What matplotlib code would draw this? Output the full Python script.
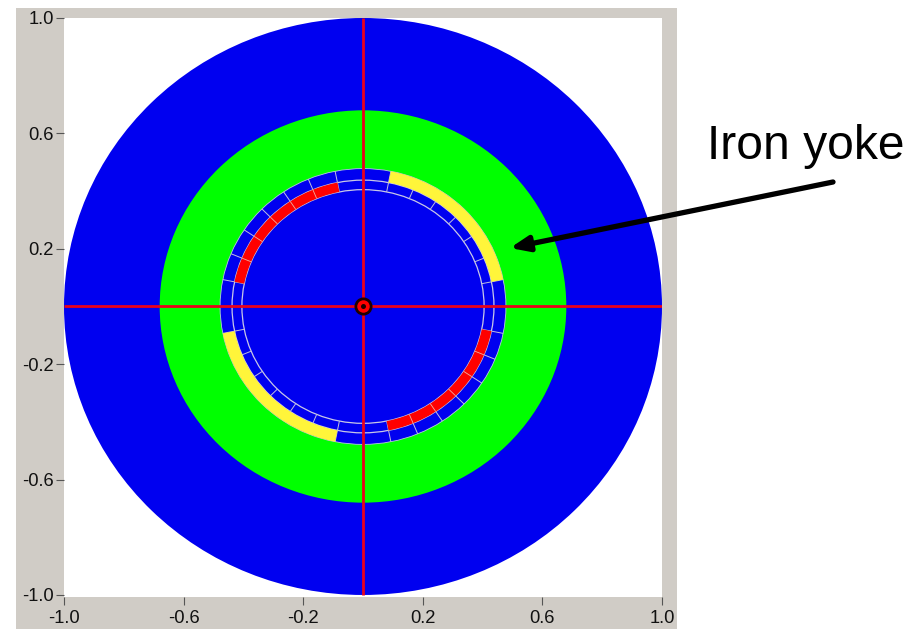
import matplotlib
matplotlib.use("Agg")
import matplotlib.pyplot as plt
from matplotlib.patches import Wedge, Circle, Rectangle

plt.rcParams['font.family'] = ['Liberation Sans', 'DejaVu Sans']

W, H = 916, 629
BLUE, GREEN, YELLOW, RED = '#0000F0', '#00FF00', '#FFF53A', '#FF0000'

# Radii
r_outer = 1.0
r_yoke = 0.68
r_coil_out = 0.478
r_coil_mid = 0.438
r_coil_in = 0.405

# Coloured blocks
block_r_in = [r_coil_mid, r_coil_mid, r_coil_in, r_coil_in]
block_r_out = [r_coil_out, r_coil_out, r_coil_mid, r_coil_mid]
block_start = [11.25, 191.25, 101.25, 281.25]
block_end = [78.75, 258.75, 168.75, 348.75]
block_color = [YELLOW, YELLOW, RED, RED]

# Angles of the dividers between coil blocks
divider_angles = [11.25, 22.5, 33.75, 45, 56.25, 67.5, 78.75,
                  101.25, 112.5, 123.75, 135, 146.25, 157.5, 168.75,
                  191.25, 202.5, 213.75, 225, 236.25, 247.5, 258.75,
                  281.25, 292.5, 303.75, 315, 326.25, 337.5, 348.75]

xticks = [-1.0, -0.6, -0.2, 0.2, 0.6, 1.0]
yticks = [-1.0, -0.6, -0.2, 0.2, 0.6, 1.0]
annotation = "Iron yoke"

fig = plt.figure(figsize=(W / 100, H / 100), dpi=100, facecolor='white')
panel = Rectangle((16 / W, 0), (677 - 16) / W, (H - 8) / H, transform=fig.transFigure,
                  facecolor='#D0CCC6', edgecolor='none', zorder=-5)
fig.patches.append(panel)

ax = fig.add_axes([64 / W, 1 - 597 / H, (662 - 64) / W, (597 - 18) / H], facecolor='white')
ax.set_xlim(-1, 1)
ax.set_ylim(-1.007, 1.0)

ax.add_patch(Circle((0, 0), r_outer, facecolor=BLUE, edgecolor='none', zorder=1))
ax.add_patch(Circle((0, 0), r_yoke, facecolor=GREEN, edgecolor='none', zorder=2))
ax.add_patch(Circle((0, 0), r_coil_out, facecolor=BLUE, edgecolor='#B8C8E0', lw=0.6, zorder=3))

# Cell outlines sit under the coloured blocks, as they barely show through them
for r in (r_coil_mid, r_coil_in):
    ax.add_patch(Circle((0, 0), r, facecolor='none', edgecolor='#C8C8E6', lw=0.9, zorder=3.5))
for a in divider_angles:
    ax.add_patch(Wedge((0, 0), r_coil_out, a, a, width=r_coil_out - r_coil_in, facecolor='none',
                       edgecolor='#C0C0DC', lw=0.7, zorder=3.5))

for ri, ro, a0, a1, c in zip(block_r_in, block_r_out, block_start, block_end, block_color):
    ax.add_patch(Wedge((0, 0), ro, a0, a1, width=ro - ri, facecolor=c, edgecolor='none', zorder=4))
    if c == RED:
        for a in divider_angles:
            if a0 < a < a1:
                ax.add_patch(Wedge((0, 0), ro, a, a, width=ro - ri, facecolor='none',
                                   edgecolor='#F0B0A0', lw=0.6, zorder=4.5))

ax.plot([-1, 1], [0, 0], color='#E8001C', lw=2.0, zorder=6, solid_capstyle='butt')
ax.plot([0, 0], [-1, 1], color='#E8001C', lw=2.0, zorder=6, solid_capstyle='butt')
ax.plot([0], [0], marker='o', ms=11, mfc=RED, mec='#200000', mew=2.0, zorder=7)
ax.plot([0], [0], marker='o', ms=3.6, mfc='#200000', mec='none', zorder=8)

for s in ax.spines.values():
    s.set_visible(False)
ax.set_xticks(xticks)
ax.set_yticks(yticks)
ax.set_xticklabels([f"{v:.1f}" for v in xticks])
ax.set_yticklabels([f"{v:.1f}" for v in yticks])
ax.tick_params(axis='x', length=5.5, width=0.8, color='#555555', labelsize=13.2,
               labelcolor='#111111', pad=4)
ax.tick_params(axis='y', length=6, width=0.8, color='#555555', labelsize=13.2,
               labelcolor='#111111', pad=1.5)

fig.text(806 / W, 1 - 146 / H, annotation, fontsize=34.6, color='black', ha='center', va='center')
ax.annotate('', xy=(510 / W, 1 - 248 / H), xycoords='figure fraction',
            xytext=(833 / W, 1 - 182 / H), textcoords='figure fraction',
            arrowprops=dict(arrowstyle='-|>,head_length=1.1,head_width=0.45', lw=3.8, color='black',
                            shrinkA=0, shrinkB=0), annotation_clip=False, zorder=10)

fig.savefig('out.png', dpi=100, facecolor='white')
